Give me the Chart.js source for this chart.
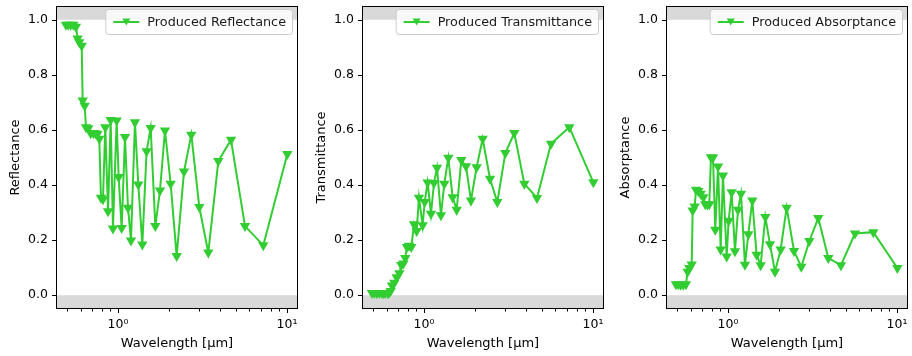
<!DOCTYPE html>
<html>
<head>
<meta charset="utf-8">
<script src="https://cdn.jsdelivr.net/npm/chart.js@4.4.0/dist/chart.umd.min.js"></script>
<style>
  html, body { margin: 0; padding: 0; background: #fff; overflow: hidden; }
  #wrap { position: relative; width: 912px; height: 356px; }
  canvas { position: absolute; top: 0; }
</style>
</head>
<body>
<div id="wrap">
  <canvas id="c1" width="304" height="356" style="left:0px"></canvas>
  <canvas id="c2" width="304" height="356" style="left:306px"></canvas>
  <canvas id="c3" width="304" height="356" style="left:610px"></canvas>
</div>
<script>
// wavelengths in micrometres, same grid for all three panels
const wavelength = [0.492, 0.508, 0.525, 0.544, 0.564, 0.577, 0.590, 0.610, 0.618, 0.635,
  0.647, 0.668, 0.689, 0.715, 0.734, 0.755, 0.775, 0.793, 0.815, 0.841,
  0.873, 0.905, 0.934, 0.982, 1.009, 1.051, 1.100, 1.146, 1.194, 1.260,
  1.319, 1.393, 1.477, 1.561, 1.663, 1.772, 1.897, 2.049, 2.224, 2.458,
  2.716, 3.029, 3.423, 3.924, 4.663, 5.644, 7.244, 10.05];

const reflectance = [0.982, 0.982, 0.982, 0.982, 0.975, 0.932, 0.918, 0.906, 0.707, 0.688,
  0.610, 0.606, 0.588, 0.589, 0.588, 0.585, 0.568, 0.354, 0.348, 0.610,
  0.305, 0.636, 0.242, 0.634, 0.429, 0.244, 0.574, 0.318, 0.199, 0.628,
  0.402, 0.184, 0.523, 0.607, 0.251, 0.380, 0.598, 0.405, 0.142, 0.449,
  0.583, 0.320, 0.155, 0.487, 0.564, 0.251, 0.181, 0.513];

const transmittance = [0.008, 0.008, 0.008, 0.008, 0.008, 0.008, 0.008, 0.008, 0.008, 0.015,
  0.035, 0.045, 0.065, 0.080, 0.110, 0.115, 0.135, 0.175, 0.180, 0.175,
  0.258, 0.233, 0.354, 0.254, 0.338, 0.409, 0.296, 0.407, 0.463, 0.290,
  0.405, 0.499, 0.356, 0.310, 0.491, 0.468, 0.344, 0.465, 0.568, 0.423,
  0.338, 0.516, 0.589, 0.405, 0.353, 0.550, 0.610, 0.410];

const absorptance = [0.040, 0.040, 0.038, 0.038, 0.040, 0.085, 0.099, 0.112, 0.308, 0.322,
  0.383, 0.378, 0.368, 0.356, 0.330, 0.330, 0.330, 0.501, 0.500, 0.238,
  0.467, 0.166, 0.435, 0.141, 0.270, 0.374, 0.160, 0.310, 0.368, 0.111,
  0.221, 0.344, 0.147, 0.109, 0.284, 0.185, 0.085, 0.166, 0.318, 0.161,
  0.103, 0.197, 0.280, 0.135, 0.109, 0.224, 0.229, 0.099];

const yTicks = [0, 0.2, 0.4, 0.6, 0.8, 1.0];
const xMajorTicks = [1, 10];
const xMinorTicks = [0.5, 0.6, 0.7, 0.8, 0.9, 2, 3, 4, 5, 6, 7, 8, 9];

const lineColor = '#32cd32';
const fontFamily = "'DejaVu Sans', sans-serif";

const panelPlugin = {
  id: 'panel',
  beforeDatasetsDraw(chart) {
    const { ctx, chartArea: a, scales: { y } } = chart;
    ctx.save();
    ctx.fillStyle = '#d9d9d9';
    const y1 = y.getPixelForValue(1);
    const y0 = y.getPixelForValue(0);
    ctx.fillRect(a.left, a.top, a.right - a.left, y1 - a.top);
    ctx.fillRect(a.left, y0, a.right - a.left, a.bottom - y0);
    ctx.restore();
  },
  afterDraw(chart) {
    const { ctx, chartArea: a, scales: { x, y } } = chart;
    ctx.save();
    // ticks
    ctx.strokeStyle = '#000';
    ctx.lineWidth = 1;
    ctx.beginPath();
    yTicks.forEach(v => {
      const py = Math.round(y.getPixelForValue(v)) + 0.5;
      ctx.moveTo(a.left, py); ctx.lineTo(a.left - 4, py);
    });
    xMajorTicks.forEach(v => {
      const px = Math.round(x.getPixelForValue(v)) + 0.5;
      ctx.moveTo(px, a.bottom); ctx.lineTo(px, a.bottom + 4);
    });
    xMinorTicks.forEach(v => {
      const px = Math.round(x.getPixelForValue(v)) + 0.5;
      ctx.moveTo(px, a.bottom); ctx.lineTo(px, a.bottom + 2.5);
    });
    ctx.stroke();
    // frame
    ctx.strokeRect(a.left + 0.5, a.top + 0.5, a.right - a.left - 1, a.bottom - a.top - 1);

    // legend box, upper right
    const label = chart.data.datasets[0].label;
    ctx.font = '12.8px ' + fontFamily;
    const tw = ctx.measureText(label).width;
    const bw = 42 + tw + 6;
    const bh = 25;
    const bx = a.right - 6 - bw;
    const by = a.top + 3;
    ctx.beginPath();
    ctx.roundRect(bx + 0.5, by + 0.5, bw, bh, 3);
    ctx.fillStyle = 'rgba(255,255,255,0.8)';
    ctx.fill();
    ctx.strokeStyle = '#cccccc';
    ctx.stroke();
    const ly = by + bh / 2 + 0.5;
    ctx.strokeStyle = lineColor;
    ctx.lineWidth = 2;
    ctx.beginPath();
    ctx.moveTo(bx + 8, ly); ctx.lineTo(bx + 34, ly);
    ctx.stroke();
    ctx.fillStyle = lineColor;
    ctx.beginPath();
    const mx = bx + 21, my = ly;
    ctx.moveTo(mx - 4, my - 3.5); ctx.lineTo(mx + 4, my - 3.5); ctx.lineTo(mx, my + 3.5);
    ctx.closePath();
    ctx.fill();
    ctx.fillStyle = '#1a1a1a';
    ctx.textBaseline = 'middle';
    ctx.fillText(label, bx + 42, ly + 1);
    ctx.restore();
  }
};

function makePanel(id, values, label, yTitle) {
  const points = wavelength.map((w, i) => ({ x: w, y: values[i] }));
  return new Chart(document.getElementById(id), {
    type: 'line',
    data: {
      datasets: [{
        label: label,
        data: points,
        borderColor: lineColor,
        backgroundColor: lineColor,
        borderWidth: 2,
        pointStyle: 'triangle',
        rotation: 180,
        pointRadius: 4,
        pointHoverRadius: 4,
        tension: 0
      }]
    },
    options: {
      responsive: false,
      animation: false,
      layout: { padding: { top: 6, right: 6, left: 0, bottom: 0 } },
      plugins: { legend: { display: false }, tooltip: { enabled: false } },
      scales: {
        x: {
          type: 'logarithmic',
          min: 0.4297,
          max: 11.62,
          grid: { display: false, drawTicks: false },
          border: { display: false },
          afterBuildTicks: s => { s.ticks = xMajorTicks.map(v => ({ value: v })); },
          afterFit: s => { s.height = 47; s.paddingLeft = 0; s.paddingRight = 0; },
          ticks: {
            autoSkip: false,
            maxRotation: 0,
            padding: 8,
            color: '#000',
            font: { family: fontFamily, size: 12.5 },
            callback: v => (v === 1 ? '10\u2070' : v === 10 ? '10\u00b9' : '')
          },
          title: {
            display: true,
            text: 'Wavelength [\u03bcm]',
            color: '#000',
            font: { family: fontFamily, size: 13 },
            padding: { top: 0, bottom: 5 }
          }
        },
        y: {
          min: -0.05,
          max: 1.05,
          grid: { display: false, drawTicks: false },
          border: { display: false },
          afterBuildTicks: s => { s.ticks = yTicks.map(v => ({ value: v })); },
          afterFit: s => { s.width = 56; s.paddingTop = 0; s.paddingBottom = 0; },
          ticks: {
            padding: 8,
            color: '#000',
            font: { family: fontFamily, size: 12.5 },
            callback: v => v.toFixed(1)
          },
          title: {
            display: true,
            text: yTitle,
            color: '#000',
            font: { family: fontFamily, size: 13 },
            padding: { top: 8, bottom: 0 }
          }
        }
      }
    },
    plugins: [panelPlugin]
  });
}

makePanel('c1', reflectance, 'Produced Reflectance', 'Reflectance');
makePanel('c2', transmittance, 'Produced Transmittance', 'Transmittance');
makePanel('c3', absorptance, 'Produced Absorptance', 'Absorptance');
</script>
</body>
</html>
